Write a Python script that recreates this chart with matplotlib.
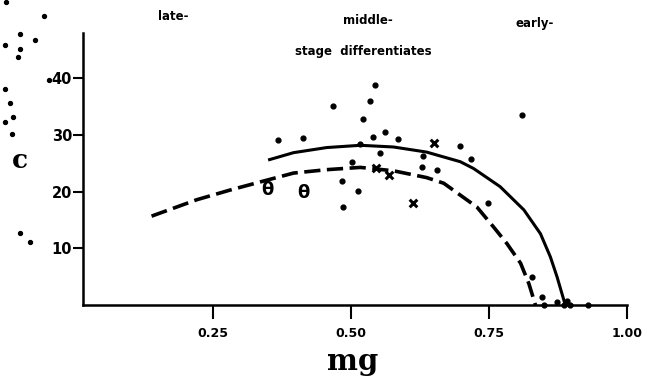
import matplotlib
matplotlib.use("Agg")
import matplotlib.pyplot as plt

# ── curves ──
solid_mg = [0.350, 0.396, 0.456, 0.517, 0.577, 0.637, 0.662, 0.698, 0.722, 0.770, 0.813, 0.843, 0.861, 0.873, 0.888]
solid_c  = [25.6, 26.9, 27.8, 28.2, 27.9, 27.0, 26.3, 25.3, 24.1, 20.9, 16.8, 12.6, 8.5, 5.0, 0.0]

dash_mg = [0.139, 0.221, 0.281, 0.342, 0.396, 0.456, 0.517, 0.577, 0.637, 0.668, 0.698, 0.728,
           0.758, 0.782, 0.807, 0.822, 0.834]
dash_c  = [15.7, 18.6, 20.3, 21.9, 23.3, 23.9, 24.3, 23.7, 22.5, 21.5, 19.4, 17.3,
           13.8, 10.9, 7.4, 3.8, 0.0]

# ── individual observations ──
dot_mg = [0.543, 0.535, 0.468, 0.522, 0.367, 0.413, 0.540, 0.561, 0.586, 0.516, 0.552, 0.630,
          0.698, 0.502, 0.628, 0.655, 0.484, 0.512, 0.485, 0.718, 0.810, 0.748, 0.828, 0.845,
          0.849, 0.873, 0.891, 0.885, 0.897, 0.929]
dot_c  = [38.9, 36.0, 35.2, 32.8, 29.2, 29.5, 29.7, 30.6, 29.3, 28.5, 26.9, 26.3,
          28.1, 25.3, 24.3, 23.8, 21.9, 20.1, 17.3, 25.7, 33.5, 18.1, 4.9, 1.4,
          0.0, 0.5, 0.7, 0.0, 0.0, 0.0]

x_mg = [0.651, 0.546, 0.568, 0.613]
x_c  = [28.6, 24.2, 23.0, 18.0]

theta_mg = [0.348, 0.413]
theta_c  = [20.4, 19.8]

# specks from the scan, left of the axis
speck_mg = [-0.055, -0.124, -0.099, -0.072, -0.127, -0.100, -0.103, -0.046, -0.127, -0.117, -0.112, -0.127, -0.114, -0.100, -0.081]
speck_c  = [51.0, 53.4, 47.8, 46.7, 45.9, 45.1, 43.7, 39.8, 38.2, 35.7, 33.2, 32.3, 30.2, 12.8, 11.2]

stage_labels = ["late-", "middle-", "early-"]
stage_mg = [0.178, 0.530, 0.832]
stage_c  = [51.0, 50.2, 49.7]

fig = plt.figure(figsize=(6.54, 3.80), dpi=100)
ax = fig.add_axes([0.127, 0.197, 0.832, 0.716])

ax.plot(solid_mg, solid_c, color="black", linewidth=2.2, solid_capstyle="butt")
ax.plot(dash_mg, dash_c, color="black", linewidth=2.6, dashes=(4.5, 1.8))

ax.scatter(dot_mg, dot_c, s=12, color="black", clip_on=False, zorder=3)
ax.scatter(x_mg, x_c, s=30, marker="x", color="black", linewidths=2.2, zorder=3)
for m, c in zip(theta_mg, theta_c):
    ax.text(m, c, "θ", ha="center", va="center", fontsize=13, fontweight="bold", zorder=3)
ax.scatter(speck_mg, speck_c, s=8, color="black", clip_on=False)

for lab, m, c in zip(stage_labels, stage_mg, stage_c):
    ax.text(m, c, lab, ha="center", va="center", fontsize=8.5, fontweight="bold")
ax.text(0.522, 44.7, "stage  differentiates", ha="center", va="center",
        fontsize=8.5, fontweight="bold")

ax.set_xlim(0.015, 1.0)
ax.set_ylim(0, 48)
ax.spines["top"].set_visible(False)
ax.spines["right"].set_visible(False)
ax.spines["left"].set_linewidth(1.8)
ax.spines["bottom"].set_linewidth(1.8)

ax.set_xticks([0.25, 0.50, 0.75, 1.00])
ax.set_xticklabels(["0.25", "0.50", "0.75", "1.00"], fontsize=9, fontweight="bold")
ax.set_yticks([10, 20, 30, 40])
ax.set_yticklabels(["10", "20", "30", "40"], fontsize=10.5, fontweight="bold")
ax.tick_params(axis="x", direction="out", length=10, width=1.5, pad=6)
ax.tick_params(axis="y", direction="out", length=7, width=1.5, pad=1)

fig.text(353 / 654, 1 - 362 / 380, "mg", ha="center", va="center",
         fontsize=21, fontweight="bold", family="DejaVu Serif")
fig.text(20 / 654, 1 - 160 / 380, "c", ha="center", va="center",
         fontsize=19, fontweight="bold", family="DejaVu Serif")

fig.savefig("out.png", dpi=100, facecolor="white")
